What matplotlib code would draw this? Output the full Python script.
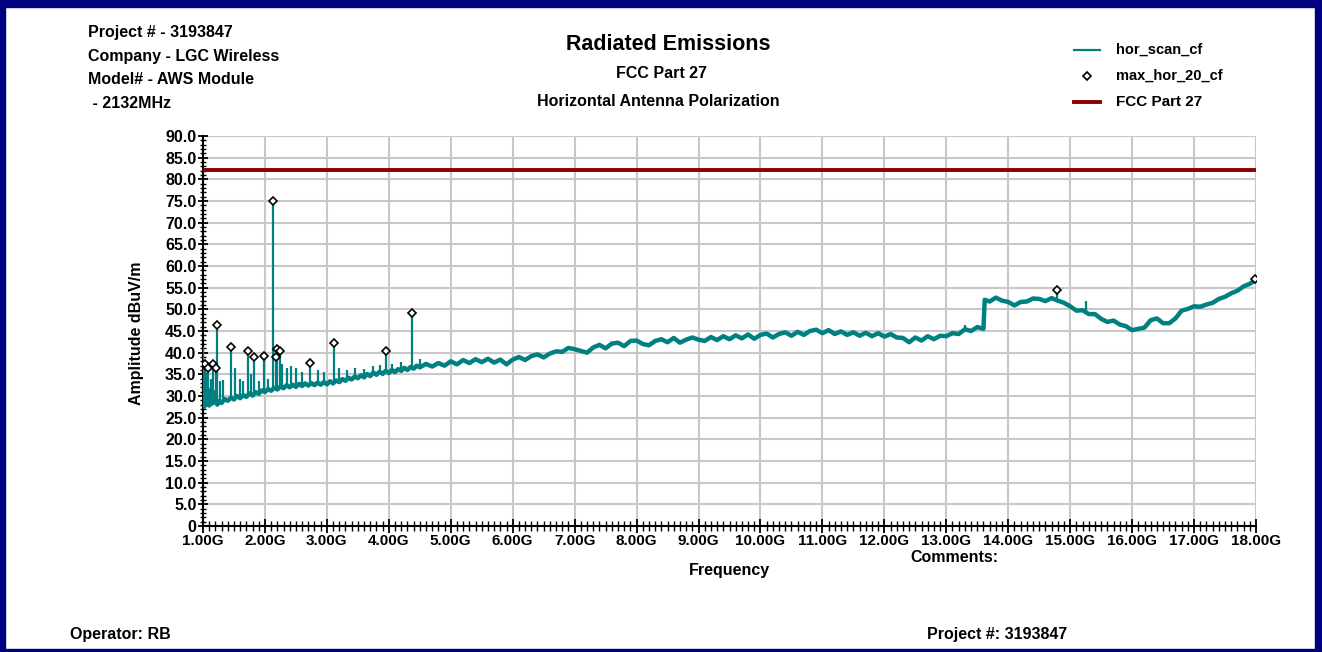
# Radiated emissions plot - horizontal antenna, FCC Part 27
import matplotlib
matplotlib.use('Agg')
import matplotlib.pyplot as plt
from matplotlib.patches import Rectangle
from matplotlib.ticker import MultipleLocator, FuncFormatter

plt.rcParams['font.family'] = ['Liberation Sans', 'DejaVu Sans']
plt.rcParams['font.weight'] = 'bold'

# scan trace (GHz, dBuV/m)
scan_freq = [1.0, 1.02, 1.04, 1.06, 1.08, 1.1, 1.12, 1.14, 1.16, 1.18, 1.2, 1.23, 1.26, 1.3,
             1.35, 1.4, 1.45, 1.5, 1.55, 1.6, 1.65, 1.7, 1.75, 1.8, 1.85, 1.9, 1.95, 2.0,
             2.05, 2.1, 2.15, 2.2, 2.25, 2.3, 2.35, 2.4, 2.45, 2.5, 2.55, 2.6, 2.65, 2.7,
             2.75, 2.8, 2.85, 2.9, 2.95, 3.0, 3.05, 3.1, 3.15, 3.2, 3.25, 3.3, 3.35, 3.4,
             3.45, 3.5, 3.55, 3.6, 3.65, 3.7, 3.75, 3.8, 3.85, 3.9, 3.95, 4.0, 4.05, 4.1,
             4.15, 4.2, 4.25, 4.3, 4.35, 4.4, 4.45, 4.5, 4.6, 4.7, 4.8, 4.9, 5.0, 5.1, 5.2,
             5.3, 5.4, 5.5, 5.6, 5.7, 5.8, 5.9, 6.0, 6.1, 6.2, 6.3, 6.4, 6.5, 6.6, 6.7, 6.8,
             6.9, 7.0, 7.1, 7.2, 7.3, 7.4, 7.5, 7.6, 7.7, 7.8, 7.9, 8.0, 8.1, 8.2, 8.3, 8.4,
             8.5, 8.6, 8.7, 8.8, 8.9, 9.0, 9.1, 9.2, 9.3, 9.4, 9.5, 9.6, 9.7, 9.8, 9.9, 10.0,
             10.1, 10.2, 10.3, 10.4, 10.5, 10.6, 10.7, 10.8, 10.9, 11.0, 11.1, 11.2, 11.3,
             11.4, 11.5, 11.6, 11.7, 11.8, 11.9, 12.0, 12.1, 12.2, 12.3, 12.4, 12.5, 12.6,
             12.7, 12.8, 12.9, 13.0, 13.1, 13.2, 13.3, 13.4, 13.5, 13.6, 13.62, 13.7, 13.8,
             13.9, 14.0, 14.1, 14.2, 14.3, 14.4, 14.5, 14.6, 14.7, 14.8, 14.9, 15.0, 15.1,
             15.2, 15.3, 15.4, 15.5, 15.6, 15.7, 15.8, 15.9, 16.0, 16.1, 16.2, 16.3, 16.4,
             16.5, 16.6, 16.7, 16.8, 16.9, 17.0, 17.1, 17.2, 17.3, 17.4, 17.5, 17.6, 17.7,
             17.8, 17.9, 18.0]
scan_amp = [30.0, 27.5, 32.0, 28.0, 31.5, 27.8, 30.5, 28.2, 31.0, 28.5, 30.0, 28.0, 28.8, 28.4,
            29.3, 28.9, 29.6, 29.2, 30.0, 29.5, 30.2, 29.8, 30.6, 30.1, 30.9, 30.5, 31.3, 30.9,
            31.6, 31.2, 31.9, 31.5, 32.2, 31.8, 32.5, 32.0, 32.6, 32.1, 32.8, 32.3, 32.9, 32.4,
            33.0, 32.5, 33.1, 32.6, 33.2, 32.7, 33.4, 32.9, 33.6, 33.2, 33.9, 33.5, 34.2, 33.8,
            34.5, 34.1, 34.8, 34.3, 35.1, 34.6, 35.4, 34.9, 35.6, 35.1, 35.8, 35.3, 36.0, 35.5,
            36.2, 35.8, 36.5, 36.0, 36.7, 36.3, 37.0, 36.6, 37.4, 36.8, 37.6, 37.0, 38.0, 37.3,
            38.3, 37.6, 38.5, 37.8, 38.6, 37.7, 38.4, 37.3, 38.4, 39.0, 38.3, 39.2, 39.6, 38.9,
            39.8, 40.3, 40.2, 41.1, 40.8, 40.4, 40.0, 41.2, 41.8, 41.0, 42.1, 42.3, 41.5, 42.7,
            42.8, 42.0, 41.7, 42.7, 43.1, 42.4, 43.4, 42.3, 43.0, 43.5, 43.0, 42.7, 43.6, 42.9,
            43.8, 43.1, 44.0, 43.3, 44.2, 43.2, 44.1, 44.4, 43.5, 44.3, 44.7, 43.9, 44.8, 44.1,
            45.0, 45.3, 44.5, 45.2, 44.3, 44.9, 44.1, 44.7, 43.9, 44.6, 43.8, 44.5, 43.7, 44.3,
            43.5, 43.4, 42.4, 43.5, 42.8, 43.8, 43.1, 43.9, 43.8, 44.5, 44.3, 45.4, 45.0, 45.9,
            45.5, 52.2, 51.8, 52.7, 52.0, 51.7, 50.9, 51.7, 51.8, 52.5, 52.4, 51.9, 52.6, 52.0,
            51.5, 50.7, 49.7, 49.8, 48.9, 48.9, 47.8, 47.1, 47.4, 46.5, 46.1, 45.2, 45.5, 45.8,
            47.5, 47.9, 46.8, 46.8, 47.9, 49.7, 50.1, 50.7, 50.6, 51.1, 51.5, 52.4, 52.9, 53.7,
            54.3, 55.3, 55.9, 56.8]

# narrow spurs on the trace: frequency, floor under the spur, spur top
spur_freq = [1.0, 1.03, 1.05, 1.086, 1.13, 1.167, 1.205, 1.22, 1.27, 1.33, 1.45, 1.52, 1.6,
             1.65, 1.72, 1.77, 1.82, 1.9, 1.98, 2.05, 2.132, 2.18, 2.19, 2.24, 2.28, 2.35,
             2.42, 2.5, 2.6, 2.73, 2.85, 2.95, 3.11, 3.2, 3.33, 3.45, 3.6, 3.75, 3.85, 3.95,
             4.05, 4.2, 4.37, 4.5, 13.3, 14.79, 15.26, 17.98]
spur_floor = [29.0, 29.5, 29.0, 29.0, 28.5, 29.0, 29.0, 29.0, 28.6, 28.8, 29.5, 29.5, 29.8,
              30.0, 30.0, 30.3, 30.3, 30.6, 31.0, 31.3, 31.5, 31.8, 31.8, 32.0, 32.0, 32.2,
              32.1, 32.3, 32.4, 32.7, 32.8, 33.0, 33.2, 33.4, 33.5, 34.0, 34.3, 34.8, 35.0,
              35.2, 35.4, 35.8, 36.2, 36.7, 44.8, 52.3, 49.3, 56.5]
spur_top = [41.4, 37.5, 35.0, 36.5, 34.0, 37.3, 36.5, 46.5, 33.5, 33.8, 41.2, 36.4, 34.0,
            33.5, 40.3, 35.0, 39.0, 33.5, 39.2, 34.0, 75.1, 39.0, 40.8, 40.5, 37.5, 36.5,
            37.0, 36.5, 35.5, 37.6, 36.0, 35.5, 42.2, 36.5, 36.0, 36.5, 36.2, 37.0, 37.2,
            40.5, 37.5, 37.8, 49.2, 38.5, 46.5, 54.5, 52.0, 57.0]

# max hold peaks (diamonds)
max_freq = [1.03, 1.086, 1.167, 1.205, 1.22, 1.45, 1.72, 1.82, 1.98, 2.132, 2.18, 2.19, 2.24,
            2.73, 3.11, 3.95, 4.37, 14.79, 17.98]
max_amp = [37.5, 36.5, 37.3, 36.5, 46.5, 41.2, 40.3, 39.0, 39.2, 75.1, 39.0, 40.8, 40.5,
           37.6, 42.2, 40.5, 49.2, 54.5, 57.0]

limit_freq = [1.0, 18.0]
limit_amp = [82.2, 82.2]

x_ticks = list(range(1, 19))
x_labels = ['%.2fG' % v for v in x_ticks]

W, H = 1322, 652
fig = plt.figure(figsize=(W / 100, H / 100), dpi=100)
fig.patch.set_facecolor('white')
ax = fig.add_axes([203 / W, 1 - 526 / H, (1256 - 203) / W, (526 - 136) / H])

# navy frame round the page
navy = '#000080'
fig.add_artist(Rectangle((0, 0), 5 / W, 1, transform=fig.transFigure, color=navy, zorder=10))
fig.add_artist(Rectangle((0, 1 - 7 / H), 1, 7 / H, transform=fig.transFigure, color=navy, zorder=10))
fig.add_artist(Rectangle((1 - 7 / W, 0), 7 / W, 1, transform=fig.transFigure, color=navy, zorder=10))
fig.add_artist(Rectangle((0, 0), 1, 3 / H, transform=fig.transFigure, color=navy, zorder=10))

teal = '#008080'
ax.plot(limit_freq, limit_amp, color='#8B0000', lw=2.8, zorder=3)
ax.plot(scan_freq, scan_amp, color=teal, lw=3.2, zorder=4)
ax.vlines(spur_freq, spur_floor, spur_top, color=teal, lw=1.6, zorder=4)
ax.plot(max_freq, max_amp, linestyle='none', marker='D', markersize=4.5,
        markerfacecolor='white', markeredgecolor='black', markeredgewidth=1.2, zorder=5)

ax.set_xlim(1, 18)
ax.set_ylim(0, 90)
ax.set_xticks(x_ticks)
ax.set_xticklabels(x_labels)
ax.xaxis.set_minor_locator(MultipleLocator(0.1))
ax.yaxis.set_major_locator(MultipleLocator(5))
ax.yaxis.set_minor_locator(MultipleLocator(1))
ax.yaxis.set_major_formatter(FuncFormatter(lambda v, p: '0' if v == 0 else '%.1f' % v))
ax.grid(True, which='major', color='#C8C8C8', lw=1.5, zorder=0)
ax.set_axisbelow(True)

ax.tick_params(axis='x', which='major', direction='inout', length=10, width=1.3, pad=1, labelsize=11)
ax.tick_params(axis='x', which='minor', direction='inout', length=6.5, width=1.0)
ax.tick_params(axis='y', which='major', direction='inout', length=7.5, width=1.3, pad=1, labelsize=11.5)
ax.tick_params(axis='y', which='minor', direction='inout', length=4.5, width=1.0)
for lab in ax.get_xticklabels() + ax.get_yticklabels():
    lab.set_fontweight('bold')
for s in ['top', 'right']:
    ax.spines[s].set_visible(False)
for s in ['left', 'bottom']:
    ax.spines[s].set_linewidth(1.5)


def px(x, y):
    return x / W, 1 - y / H


fs = 11.5
# header block
fig.text(*px(88, 32), 'Project # - 3193847', fontsize=fs, fontweight='bold', va='center')
fig.text(*px(88, 56), 'Company - LGC Wireless', fontsize=fs, fontweight='bold', va='center')
fig.text(*px(88, 80), 'Model# - AWS Module', fontsize=fs, fontweight='bold', va='center')
fig.text(*px(88, 103), ' - 2132MHz', fontsize=fs, fontweight='bold', va='center')

fig.text(*px(668, 45), 'Radiated Emissions', fontsize=15.5, fontweight='bold', ha='center', va='center')
fig.text(*px(662, 74), 'FCC Part 27', fontsize=fs, fontweight='bold', ha='center', va='center')
fig.text(*px(658, 101), 'Horizontal Antenna Polarization', fontsize=fs, fontweight='bold',
         ha='center', va='center')

# legend drawn by hand to keep the spacing of the original
leg = fig.add_axes([1070 / W, 1 - 115 / H, 40 / W, 80 / H])
leg.set_xlim(0, 1)
leg.set_ylim(115, 35)
leg.axis('off')
leg.plot([0.1, 0.75], [50, 50], color=teal, lw=1.6)
leg.plot([0.43], [76], marker='D', markersize=4.5, markerfacecolor='white',
         markeredgecolor='black', markeredgewidth=1.2)
leg.plot([0.1, 0.75], [102, 102], color='#8B0000', lw=2.8)
fig.text(*px(1116, 50), 'hor_scan_cf', fontsize=10.5, fontweight='bold', va='center')
fig.text(*px(1116, 76), 'max_hor_20_cf', fontsize=10.5, fontweight='bold', va='center')
fig.text(*px(1116, 102), 'FCC Part 27', fontsize=11, fontweight='bold', va='center')

fig.text(*px(137, 333), 'Amplitude dBuV/m', fontsize=fs, fontweight='bold', rotation=90,
         ha='center', va='center')
fig.text(*px(729, 570), 'Frequency', fontsize=fs, fontweight='bold', ha='center', va='center')
fig.text(*px(910, 557), 'Comments:', fontsize=fs, fontweight='bold', va='center')
fig.text(*px(70, 634), 'Operator: RB', fontsize=fs, fontweight='bold', va='center')
fig.text(*px(927, 634), 'Project #: 3193847', fontsize=fs, fontweight='bold', va='center')

fig.savefig('out.png', dpi=100)
